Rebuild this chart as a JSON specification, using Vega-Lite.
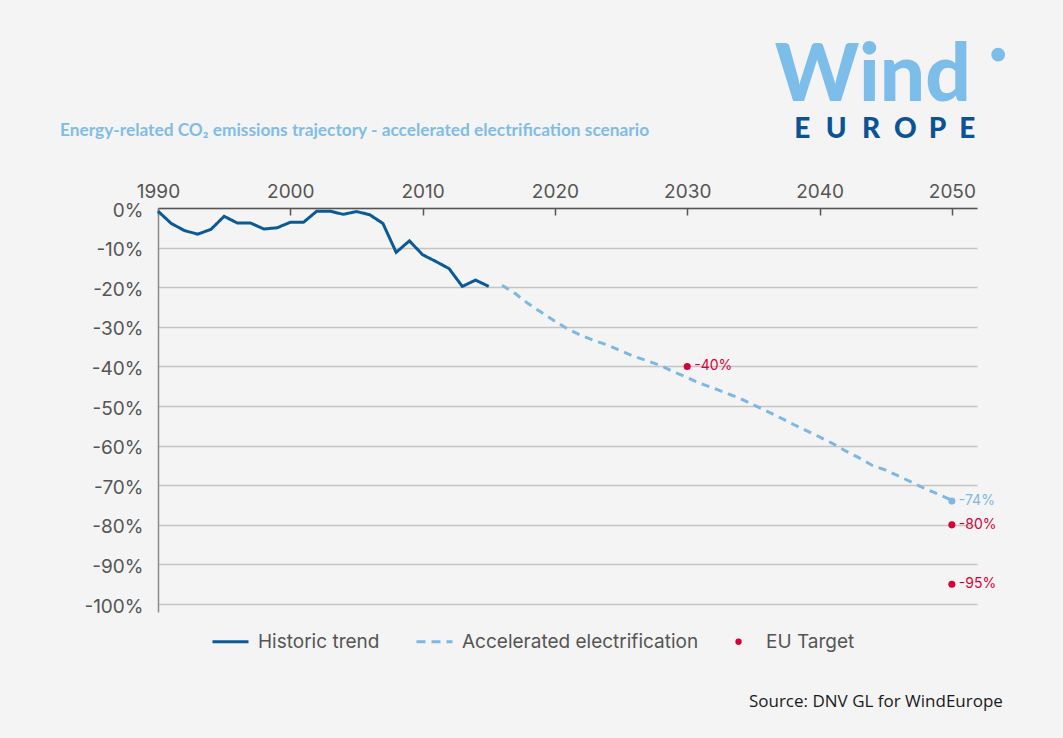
{
  "$schema": "https://vega.github.io/schema/vega-lite/v6.json",
  "width": 819,
  "height": 404,
  "autosize": "none",
  "padding": {"left": 158, "top": 208, "right": 86, "bottom": 126},
  "background": "#f4f4f4",
  "config": {
    "view": {"stroke": null},
    "font": "Inter",
    "axis": {"labelFont": "Inter", "labelFontSize": 19, "labelColor": "#555555"},
    "legend": {"labelFont": "Inter", "labelFontSize": 19, "labelColor": "#555555"}
  },
  "datasets": {
    "lines": [
      {"year": 1990, "value": -0.8, "series": "Historic trend"},
      {"year": 1991, "value": -3.9, "series": "Historic trend"},
      {"year": 1992, "value": -5.7, "series": "Historic trend"},
      {"year": 1993, "value": -6.6, "series": "Historic trend"},
      {"year": 1994, "value": -5.4, "series": "Historic trend"},
      {"year": 1995, "value": -2.1, "series": "Historic trend"},
      {"year": 1996, "value": -3.8, "series": "Historic trend"},
      {"year": 1997, "value": -3.8, "series": "Historic trend"},
      {"year": 1998, "value": -5.3, "series": "Historic trend"},
      {"year": 1999, "value": -5.0, "series": "Historic trend"},
      {"year": 2000, "value": -3.6, "series": "Historic trend"},
      {"year": 2001, "value": -3.6, "series": "Historic trend"},
      {"year": 2002, "value": -0.8, "series": "Historic trend"},
      {"year": 2003, "value": -0.8, "series": "Historic trend"},
      {"year": 2004, "value": -1.6, "series": "Historic trend"},
      {"year": 2005, "value": -0.9, "series": "Historic trend"},
      {"year": 2006, "value": -1.7, "series": "Historic trend"},
      {"year": 2007, "value": -3.9, "series": "Historic trend"},
      {"year": 2008, "value": -11.2, "series": "Historic trend"},
      {"year": 2009, "value": -8.3, "series": "Historic trend"},
      {"year": 2010, "value": -11.8, "series": "Historic trend"},
      {"year": 2011, "value": -13.5, "series": "Historic trend"},
      {"year": 2012, "value": -15.3, "series": "Historic trend"},
      {"year": 2013, "value": -19.8, "series": "Historic trend"},
      {"year": 2014, "value": -18.2, "series": "Historic trend"},
      {"year": 2015, "value": -19.8, "series": "Historic trend"},
      {"year": 2016, "value": -19.5, "series": "Accelerated electrification"},
      {"year": 2017, "value": -21.6, "series": "Accelerated electrification"},
      {"year": 2018, "value": -24.2, "series": "Accelerated electrification"},
      {"year": 2019, "value": -26.4, "series": "Accelerated electrification"},
      {"year": 2020, "value": -28.6, "series": "Accelerated electrification"},
      {"year": 2021, "value": -30.6, "series": "Accelerated electrification"},
      {"year": 2022, "value": -32.2, "series": "Accelerated electrification"},
      {"year": 2023, "value": -33.5, "series": "Accelerated electrification"},
      {"year": 2024, "value": -34.6, "series": "Accelerated electrification"},
      {"year": 2025, "value": -36.1, "series": "Accelerated electrification"},
      {"year": 2026, "value": -37.5, "series": "Accelerated electrification"},
      {"year": 2027, "value": -38.6, "series": "Accelerated electrification"},
      {"year": 2028, "value": -39.8, "series": "Accelerated electrification"},
      {"year": 2029, "value": -41.4, "series": "Accelerated electrification"},
      {"year": 2030, "value": -42.8, "series": "Accelerated electrification"},
      {"year": 2031, "value": -44.3, "series": "Accelerated electrification"},
      {"year": 2032, "value": -45.5, "series": "Accelerated electrification"},
      {"year": 2033, "value": -46.8, "series": "Accelerated electrification"},
      {"year": 2034, "value": -48.1, "series": "Accelerated electrification"},
      {"year": 2035, "value": -49.7, "series": "Accelerated electrification"},
      {"year": 2036, "value": -51.3, "series": "Accelerated electrification"},
      {"year": 2037, "value": -52.9, "series": "Accelerated electrification"},
      {"year": 2038, "value": -54.6, "series": "Accelerated electrification"},
      {"year": 2039, "value": -56.2, "series": "Accelerated electrification"},
      {"year": 2040, "value": -57.8, "series": "Accelerated electrification"},
      {"year": 2041, "value": -59.5, "series": "Accelerated electrification"},
      {"year": 2042, "value": -61.4, "series": "Accelerated electrification"},
      {"year": 2043, "value": -63.1, "series": "Accelerated electrification"},
      {"year": 2044, "value": -65.0, "series": "Accelerated electrification"},
      {"year": 2045, "value": -66.2, "series": "Accelerated electrification"},
      {"year": 2046, "value": -67.7, "series": "Accelerated electrification"},
      {"year": 2047, "value": -69.3, "series": "Accelerated electrification"},
      {"year": 2048, "value": -70.9, "series": "Accelerated electrification"},
      {"year": 2049, "value": -72.3, "series": "Accelerated electrification"},
      {"year": 2050, "value": -73.8, "series": "Accelerated electrification"}
    ],
    "points": [
      {"year": 2030, "value": -40, "label": "-40%", "series": "EU Target"},
      {"year": 2050, "value": -74, "label": "-74%", "series": "Accelerated electrification"},
      {"year": 2050, "value": -80, "label": "-80%", "series": "EU Target"},
      {"year": 2050, "value": -95, "label": "-95%", "series": "EU Target"}
    ],
    "one": [{}]
  },
  "layer": [
    {
      "data": {"name": "lines"},
      "mark": {"type": "line", "strokeWidth": 3, "strokeCap": "butt"},
      "encoding": {
        "x": {
          "field": "year", "type": "quantitative",
          "scale": {"domain": [1990, 2051.9], "nice": false, "zero": false},
          "axis": {
            "orient": "top", "title": null, "values": [1990, 2000, 2010, 2020, 2030, 2040, 2050],
            "format": "d", "grid": false, "domainColor": "#555555", "domainWidth": 1.5,
            "tickColor": "#555555", "tickWidth": 1.5, "tickSize": -7, "labelPadding": 14, "labelFlush": false
          }
        },
        "y": {
          "field": "value", "type": "quantitative",
          "scale": {"domain": [-102, 0], "nice": false, "zero": false},
          "axis": {
            "title": null, "values": [0, -10, -20, -30, -40, -50, -60, -70, -80, -90, -100],
            "labelExpr": "datum.value + '%'", "ticks": false, "domainColor": "#8a8a8a", "domainWidth": 1.5,
            "gridColor": "#c4c4c4", "gridWidth": 1.5, "labelPadding": 15, "labelOffset": 2, "labelFlush": false
          }
        },
        "color": {
          "field": "series", "type": "nominal",
          "scale": {"domain": ["Historic trend", "Accelerated electrification", "EU Target"], "range": ["#0b5a96", "#7db8e2", "#d8003a"]},
          "legend": {
            "title": null, "orient": "none", "legendX": 63, "legendY": 424, "direction": "horizontal",
            "symbolType": "stroke", "symbolSize": 1296, "symbolStrokeWidth": 3, "columnPadding": 30, "labelOffset": 18, "labelLimit": 0,
            "encode": {
              "symbols": {
                "update": {
                  "shape": {"signal": "datum.value === 'EU Target' ? 'circle' : 'stroke'"},
                  "size": {"signal": "datum.value === 'EU Target' ? 40 : 1296"},
                  "strokeDash": {"signal": "datum.value === 'Accelerated electrification' ? [9, 6] : []"},
                  "fill": {"signal": "datum.value === 'EU Target' ? '#d8003a' : 'transparent'"},
                  "strokeWidth": {"signal": "datum.value === 'EU Target' ? 0 : 3"}
                }
              }
            }
          }
        },
        "strokeDash": {
          "field": "series", "type": "nominal",
          "scale": {"domain": ["Historic trend", "Accelerated electrification"], "range": [[1, 0], [8, 6]]},
          "legend": null
        }
      }
    },
    {
      "data": {"name": "points"},
      "mark": {"type": "point", "filled": true, "opacity": 1, "size": 50},
      "encoding": {
        "x": {"field": "year", "type": "quantitative"},
        "y": {"field": "value", "type": "quantitative"},
        "color": {"field": "series", "type": "nominal"}
      }
    },
    {
      "data": {"name": "points"},
      "mark": {"type": "text", "align": "left", "baseline": "middle", "dx": 7, "fontSize": 14, "font": "Inter"},
      "encoding": {
        "x": {"field": "year", "type": "quantitative"},
        "y": {"field": "value", "type": "quantitative"},
        "text": {"field": "label"},
        "color": {"field": "series", "type": "nominal"}
      }
    },
    {
      "data": {"name": "one"},
      "mark": {"type": "text", "align": "left", "baseline": "middle", "font": "Lato", "fontWeight": "bold", "fontSize": 17.3, "color": "#80bde6",
               "text": "Energy-related CO\u2082 emissions trajectory - accelerated electrification scenario"},
      "encoding": {"x": {"datum": 1982.59, "type": "quantitative"}, "y": {"datum": 19.42, "type": "quantitative"}}
    },
    {
      "data": {"name": "one"},
      "mark": {"type": "text", "align": "center", "baseline": "alphabetic", "font": "Lato", "fontWeight": 900, "fontSize": 80, "color": "#7dbde9", "text": "Wind"},
      "encoding": {"x": {"datum": 2044.03, "type": "quantitative"}, "y": {"datum": 26.94, "type": "quantitative"}}
    },
    {
      "data": {"name": "one"},
      "mark": {"type": "point", "filled": true, "opacity": 1, "size": 190, "color": "#7dbde9"},
      "encoding": {"x": {"datum": 2053.5, "type": "quantitative"}, "y": {"datum": 38.71, "type": "quantitative"}}
    },
    {
      "data": {"name": "one"},
      "mark": {"type": "text", "align": "center", "baseline": "alphabetic", "font": "Lato", "fontWeight": 900, "fontSize": 28, "color": "#0b5394", "text": "E"},
      "encoding": {"x": {"datum": 2038.7, "type": "quantitative"}, "y": {"datum": 17.7, "type": "quantitative"}}
    },
    {
      "data": {"name": "one"},
      "mark": {"type": "text", "align": "center", "baseline": "alphabetic", "font": "Lato", "fontWeight": 900, "fontSize": 28, "color": "#0b5394", "text": "U"},
      "encoding": {"x": {"datum": 2041.25, "type": "quantitative"}, "y": {"datum": 17.7, "type": "quantitative"}}
    },
    {
      "data": {"name": "one"},
      "mark": {"type": "text", "align": "center", "baseline": "alphabetic", "font": "Lato", "fontWeight": 900, "fontSize": 28, "color": "#0b5394", "text": "R"},
      "encoding": {"x": {"datum": 2043.9, "type": "quantitative"}, "y": {"datum": 17.7, "type": "quantitative"}}
    },
    {
      "data": {"name": "one"},
      "mark": {"type": "text", "align": "center", "baseline": "alphabetic", "font": "Lato", "fontWeight": 900, "fontSize": 28, "color": "#0b5394", "text": "O"},
      "encoding": {"x": {"datum": 2046.49, "type": "quantitative"}, "y": {"datum": 17.7, "type": "quantitative"}}
    },
    {
      "data": {"name": "one"},
      "mark": {"type": "text", "align": "center", "baseline": "alphabetic", "font": "Lato", "fontWeight": 900, "fontSize": 28, "color": "#0b5394", "text": "P"},
      "encoding": {"x": {"datum": 2048.91, "type": "quantitative"}, "y": {"datum": 17.7, "type": "quantitative"}}
    },
    {
      "data": {"name": "one"},
      "mark": {"type": "text", "align": "center", "baseline": "alphabetic", "font": "Lato", "fontWeight": 900, "fontSize": 28, "color": "#0b5394", "text": "E"},
      "encoding": {"x": {"datum": 2051.16, "type": "quantitative"}, "y": {"datum": 17.7, "type": "quantitative"}}
    },
    {
      "data": {"name": "one"},
      "mark": {"type": "text", "align": "center", "baseline": "middle", "font": "Open Sans", "fontSize": 17, "color": "#1a1a1a", "text": "Source: DNV GL for WindEurope"},
      "encoding": {"x": {"datum": 2044.26, "type": "quantitative"}, "y": {"datum": -124.72, "type": "quantitative"}}
    }
  ]
}
